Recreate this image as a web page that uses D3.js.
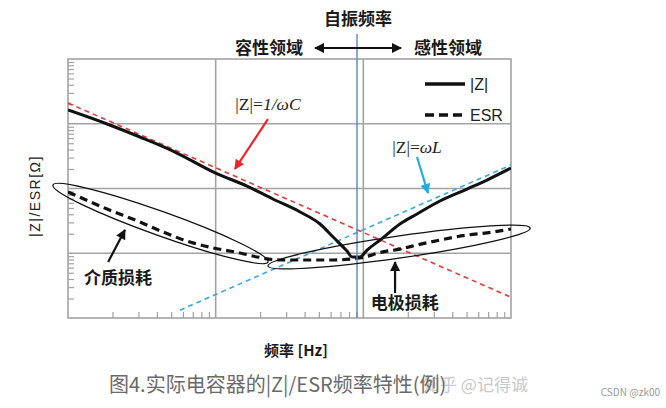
<!DOCTYPE html>
<html>
<head>
<meta charset="utf-8">
<script src="https://cdnjs.cloudflare.com/ajax/libs/d3/7.8.5/d3.min.js"></script>
<style>
    body { margin: 0; background: #fff; }
    svg text { font-family: "Noto Sans CJK SC", "Liberation Sans", Arial, sans-serif; }
</style>
</head>
<body>
<div id="chart"></div>
<script>
// |Z| measured curve (frequency in Hz, impedance in ohm)
var zFreq = [1e5, 1.84e5, 3.07e5, 5.14e5, 1e6, 1.63e6, 2.44e6, 3.73e6, 5.09e6, 6.24e6, 7.75e6,
    8.38e6, 9.49e6, 1.06e7, 1.30e7, 1.77e7, 2.31e7, 3.30e7, 5.04e7, 6.88e7, 1e8];
var zVals = [16.3, 9.91, 6.24, 3.79, 1.73, 1.09, 0.689, 0.434, 0.283, 0.178, 0.108,
    0.0876, 0.0876, 0.112, 0.160, 0.283, 0.404, 0.641, 0.982, 1.35, 2.07];

// ESR curve
var esrFreq = [1e5, 1.84e5, 3.07e5, 4.40e5, 6.70e5, 9.59e5, 1.46e6, 1.91e6, 2.73e6, 6.24e6,
    9.49e6, 1.36e7, 1.77e7, 2.31e7, 3.30e7, 5.04e7, 6.88e7, 1e8];
var esrVals = [0.883, 0.482, 0.304, 0.213, 0.149, 0.121, 0.101, 0.0876, 0.0787, 0.0787,
    0.0846, 0.105, 0.116, 0.134, 0.160, 0.191, 0.206, 0.237];

// ideal asymptotes
var capFreq = [1e5, 1e8];
var capVals = [20.9, 0.0209];   // |Z| = 1/wC
var indFreq = [5.73e5, 1e8];
var indVals = [0.0132, 2.31];   // |Z| = wL

var srfFreq = 9.06e6;
var freqDomain = [1e5, 1e8];
var zDomain = [0.01, 100];
var gridFreq = [1e6, 1e7];
var gridZ = [0.1, 1, 10];

// ellipses marking the loss regions, given by their two tips [f, Z]
var lossEllipses = [
    {tips: [[7.91e4, 1.13], [2.26e6, 0.0733]], ry: 12},
    {tips: [[2.26e6, 0.0636], [1.35e8, 0.245]], ry: 11}
];

// annotation arrows: from [f, Z] to [f, Z]
var arrows = [
    {from: [2.26e6, 11.8], to: [1.35e6, 2.0], color: "#e8262a"},
    {from: [2.31e7, 3.06], to: [2.74e7, 0.853], color: "#29a9e1"},
    {from: [1.87e5, 0.0733], to: [2.43e5, 0.229], color: "#111"},
    {from: [1.64e7, 0.0243], to: [1.64e7, 0.0733], color: "#111"}
];

var lossLabels = [
    {text: "介质损耗", f: 2.18e5, z: 0.0415},
    {text: "电极损耗", f: 1.91e7, z: 0.0171}
];

var sn = sn || {};

sn.init = function () {
    sn.width = 666;
    sn.height = 408;
    sn.plot = {left: 68, right: 511, top: 59, bottom: 318};

    sn.svg = d3.select("#chart").append("svg")
        .attr("width", sn.width)
        .attr("height", sn.height);

    sn.x = d3.scaleLog().domain(freqDomain).range([sn.plot.left, sn.plot.right]);
    sn.y = d3.scaleLog().domain(zDomain).range([sn.plot.bottom, sn.plot.top]);

    sn.defs();
    sn.drawFrame();
    sn.drawCurves();
    sn.drawAnnotations();
    sn.drawTexts();
};

sn.defs = function () {
    var defs = sn.svg.append("defs");
    defs.append("clipPath").attr("id", "plot-clip")
        .append("rect")
        .attr("x", sn.plot.left).attr("y", sn.plot.top)
        .attr("width", sn.plot.right - sn.plot.left)
        .attr("height", sn.plot.bottom - sn.plot.top);

    var colors = {red: "#e8262a", blue: "#29a9e1", black: "#111"};
    Object.keys(colors).forEach(function (k) {
        defs.append("marker")
            .attr("id", "head-" + k)
            .attr("viewBox", "0 0 10 10")
            .attr("refX", 9).attr("refY", 5)
            .attr("markerWidth", 11).attr("markerHeight", 10)
            .attr("markerUnits", "userSpaceOnUse")
            .attr("orient", "auto-start-reverse")
            .append("path")
            .attr("d", "M0,0 L10,5 L0,10 z")
            .style("fill", colors[k]);
    });
};

sn.markerFor = function (color) {
    if (color === "#e8262a") return "url(#head-red)";
    if (color === "#29a9e1") return "url(#head-blue)";
    return "url(#head-black)";
};

sn.drawFrame = function () {
    var p = sn.plot;
    var gridColor = "#a3a3a3";

    // log minor ticks (2..9 in every decade)
    var minorF = [], minorZ = [];
    for (var e = 5; e < 8; e++) {
        for (var k = 2; k < 10; k++) minorF.push(k * Math.pow(10, e));
    }
    for (var e2 = -2; e2 < 2; e2++) {
        for (var k2 = 2; k2 < 10; k2++) minorZ.push(k2 * Math.pow(10, e2));
    }

    var xAxis = d3.axisBottom(sn.x).tickValues(minorF).tickSize(-6).tickFormat("");
    var yAxis = d3.axisLeft(sn.y).tickValues(minorZ).tickSize(-6).tickFormat("");

    sn.svg.append("g").attr("class", "x-minor")
        .attr("transform", "translate(0," + p.bottom + ")")
        .call(xAxis)
        .call(function (g) { g.select(".domain").remove(); })
        .selectAll("line").style("stroke", gridColor).style("stroke-width", 1.2);

    sn.svg.append("g").attr("class", "y-minor")
        .attr("transform", "translate(" + p.left + ",0)")
        .call(yAxis)
        .call(function (g) { g.select(".domain").remove(); })
        .selectAll("line").style("stroke", gridColor).style("stroke-width", 1.2);

    sn.svg.append("g").attr("class", "grid-x")
        .selectAll("line").data(gridFreq).enter().append("line")
        .attr("x1", function (d) { return sn.x(d); })
        .attr("x2", function (d) { return sn.x(d); })
        .attr("y1", p.top).attr("y2", p.bottom)
        .style("stroke", gridColor).style("stroke-width", 1.6);

    sn.svg.append("g").attr("class", "grid-y")
        .selectAll("line").data(gridZ).enter().append("line")
        .attr("y1", function (d) { return sn.y(d); })
        .attr("y2", function (d) { return sn.y(d); })
        .attr("x1", p.left).attr("x2", p.right)
        .style("stroke", gridColor).style("stroke-width", 1.6);

    sn.svg.append("rect")
        .attr("x", p.left).attr("y", p.top)
        .attr("width", p.right - p.left).attr("height", p.bottom - p.top)
        .style("fill", "none").style("stroke", gridColor).style("stroke-width", 1.6);
};

sn.drawCurves = function () {
    var line = d3.line()
        .x(function (d) { return sn.x(d[0]); })
        .y(function (d) { return sn.y(d[1]); });
    var smooth = d3.line()
        .x(function (d) { return sn.x(d[0]); })
        .y(function (d) { return sn.y(d[1]); })
        .curve(d3.curveMonotoneX);

    var g = sn.svg.append("g").attr("clip-path", "url(#plot-clip)");

    g.append("path").datum(d3.zip(capFreq, capVals))
        .attr("d", line)
        .style("fill", "none").style("stroke", "#e23a3c")
        .style("stroke-width", 1.6).style("stroke-dasharray", "5,4");

    g.append("path").datum(d3.zip(indFreq, indVals))
        .attr("d", line)
        .style("fill", "none").style("stroke", "#36a9de")
        .style("stroke-width", 1.6).style("stroke-dasharray", "5,4");

    g.append("path").datum(d3.zip(esrFreq, esrVals))
        .attr("d", smooth)
        .style("fill", "none").style("stroke", "#111")
        .style("stroke-width", 3.2).style("stroke-dasharray", "8,5");

    g.append("path").datum(d3.zip(zFreq, zVals))
        .attr("d", smooth)
        .style("fill", "none").style("stroke", "#111")
        .style("stroke-width", 3);

    // self resonance line, running up above the frame
    sn.svg.append("line")
        .attr("x1", sn.x(srfFreq)).attr("x2", sn.x(srfFreq))
        .attr("y1", sn.plot.top - 25).attr("y2", sn.plot.bottom)
        .style("stroke", "#5a84c0").style("stroke-width", 1.4);
};

sn.drawAnnotations = function () {
    lossEllipses.forEach(function (el) {
        var x1 = sn.x(el.tips[0][0]), y1 = sn.y(el.tips[0][1]);
        var x2 = sn.x(el.tips[1][0]), y2 = sn.y(el.tips[1][1]);
        var cx = (x1 + x2) / 2, cy = (y1 + y2) / 2;
        var rx = Math.sqrt((x2 - x1) * (x2 - x1) + (y2 - y1) * (y2 - y1)) / 2;
        var angle = Math.atan2(y2 - y1, x2 - x1) * 180 / Math.PI;
        sn.svg.append("ellipse")
            .attr("cx", 0).attr("cy", 0).attr("rx", rx).attr("ry", el.ry)
            .attr("transform", "translate(" + cx + "," + cy + ") rotate(" + angle + ")")
            .style("fill", "none").style("stroke", "#111").style("stroke-width", 1.3);
    });

    sn.svg.append("g").selectAll("line").data(arrows).enter().append("line")
        .attr("x1", function (d) { return sn.x(d.from[0]); })
        .attr("y1", function (d) { return sn.y(d.from[1]); })
        .attr("x2", function (d) { return sn.x(d.to[0]); })
        .attr("y2", function (d) { return sn.y(d.to[1]); })
        .style("stroke", function (d) { return d.color; })
        .style("stroke-width", 2.2)
        .attr("marker-end", function (d) { return sn.markerFor(d.color); });

    sn.svg.append("g").selectAll("text").data(lossLabels).enter().append("text")
        .attr("x", function (d) { return sn.x(d.f); })
        .attr("y", function (d) { return sn.y(d.z); })
        .attr("text-anchor", "middle").attr("dy", "0.36em")
        .style("font-size", "17px").style("font-weight", "bold").style("fill", "#1a1a1a")
        .text(function (d) { return d.text; });

    // formula labels
    var f1 = sn.svg.append("text")
        .attr("x", sn.x(2.26e6)).attr("y", sn.y(20.2))
        .attr("text-anchor", "middle").attr("dy", "0.35em")
        .style("font-family", "'Liberation Serif', 'DejaVu Serif', serif")
        .style("font-size", "17.5px").style("fill", "#222");
    f1.append("tspan").text("|Z|=");
    f1.append("tspan").style("font-style", "italic").text("1/ωC");

    var f2 = sn.svg.append("text")
        .attr("x", sn.x(2.31e7)).attr("y", sn.y(4.38))
        .attr("text-anchor", "middle").attr("dy", "0.35em")
        .style("font-family", "'Liberation Serif', 'DejaVu Serif', serif")
        .style("font-size", "17.5px").style("fill", "#222");
    f2.append("tspan").text("|Z|=");
    f2.append("tspan").style("font-style", "italic").text("ωL");

    // legend
    var lg = sn.svg.append("g").attr("transform", "translate(425,84)");
    lg.append("line").attr("x1", 0).attr("x2", 40).attr("y1", 0).attr("y2", 0)
        .style("stroke", "#111").style("stroke-width", 3.5);
    lg.append("text").attr("x", 45).attr("y", 0).attr("dy", "0.36em")
        .style("font-family", "'Liberation Sans', Arial, sans-serif")
        .style("font-size", "16px").style("fill", "#222").text("|Z|");
    lg.append("line").attr("x1", 0).attr("x2", 40).attr("y1", 31).attr("y2", 31)
        .style("stroke", "#111").style("stroke-width", 3.5).style("stroke-dasharray", "9,5");
    lg.append("text").attr("x", 45).attr("y", 31).attr("dy", "0.36em")
        .style("font-family", "'Liberation Sans', Arial, sans-serif")
        .style("font-size", "16px").style("fill", "#222").text("ESR");
};

sn.drawTexts = function () {
    var xs = sn.x(srfFreq);

    sn.svg.append("text")
        .attr("x", xs + 1).attr("y", 19).attr("dy", "0.36em")
        .attr("text-anchor", "middle")
        .style("font-size", "17px").style("font-weight", "bold").style("fill", "#1a1a1a")
        .text("自振频率");

    sn.svg.append("line")
        .attr("x1", xs - 42).attr("x2", xs + 44).attr("y1", 48).attr("y2", 48)
        .style("stroke", "#111").style("stroke-width", 2.2)
        .attr("marker-start", "url(#head-black)")
        .attr("marker-end", "url(#head-black)");

    sn.svg.append("text")
        .attr("x", xs - 54).attr("y", 48).attr("dy", "0.36em")
        .attr("text-anchor", "end")
        .style("font-size", "17px").style("font-weight", "bold").style("fill", "#1a1a1a")
        .text("容性领域");

    sn.svg.append("text")
        .attr("x", xs + 57).attr("y", 48).attr("dy", "0.36em")
        .attr("text-anchor", "start")
        .style("font-size", "17px").style("font-weight", "bold").style("fill", "#1a1a1a")
        .text("感性领域");

    // axis titles
    sn.svg.append("text")
        .attr("transform", "translate(35," + 196 + ") rotate(-90)")
        .attr("text-anchor", "middle").attr("dy", "0.36em")
        .style("font-family", "'Liberation Sans', Arial, sans-serif")
        .style("font-size", "14px").style("letter-spacing", "1.5px").style("fill", "#222")
        .text("|Z|/ESR[Ω]");

    sn.svg.append("text")
        .attr("x", 296).attr("y", 351).attr("dy", "0.36em")
        .attr("text-anchor", "middle")
        .style("font-size", "15px").style("font-weight", "bold").style("fill", "#1a1a1a")
        .text("频率 [Hz]");

    // caption and watermarks
    sn.svg.append("text")
        .attr("x", 423).attr("y", 385).attr("dy", "0.36em")
        .style("font-size", "17px").style("fill", "#c9c9c9")
        .text("知乎 @记得诚");

    sn.svg.append("text")
        .attr("x", 109).attr("y", 385).attr("dy", "0.36em")
        .style("font-size", "20px").style("fill", "#6a6a6a")
        .text("图4.实际电容器的|Z|/ESR频率特性(例)");

    sn.svg.append("text")
        .attr("x", 660).attr("y", 392).attr("dy", "0.36em")
        .attr("text-anchor", "end")
        .style("font-size", "10px").style("fill", "#999")
        .text("CSDN @zk00");
};

sn.init();
</script>
</body>
</html>
